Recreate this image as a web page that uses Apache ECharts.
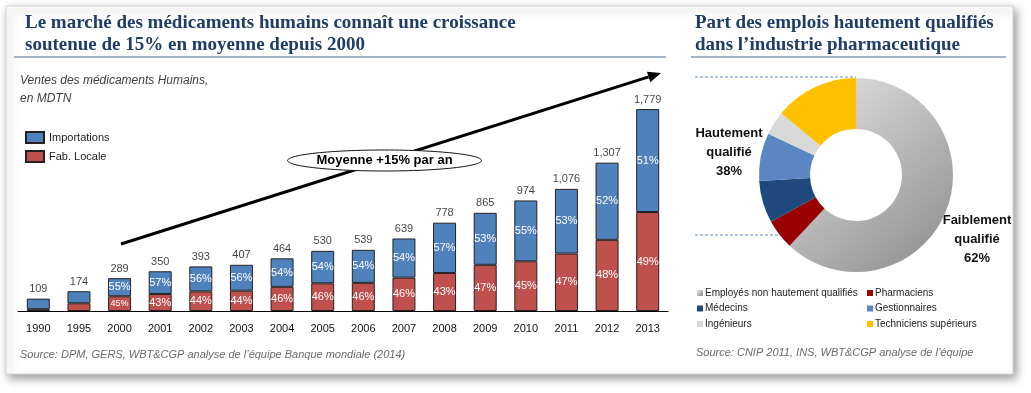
<!DOCTYPE html>
<html>
<head>
<meta charset="utf-8">
<script src="https://cdn.jsdelivr.net/npm/echarts@6/dist/echarts.min.js"></script>
<style>
html,body{margin:0;padding:0;background:#ffffff;}
#chart{width:1031px;height:393px;}
</style>
</head>
<body>
<div id="chart"></div>
<script>
// ---- Data ----
const years = ['1990','1995','2000','2001','2002','2003','2004','2005','2006','2007','2008','2009','2010','2011','2012','2013'];
const totals = [109,174,289,350,393,407,464,530,539,639,778,865,974,1076,1307,1779];
const localValues = [16,68,130,150,173,179,213,244,248,294,335,407,438,506,627,872];
const importValues = [93,106,159,200,220,228,251,286,291,345,443,458,536,570,680,907];
const localPct = [null,null,45,43,44,44,46,46,46,46,43,47,45,47,48,49];
const importPct = [null,null,55,57,56,56,54,54,54,54,57,53,55,53,52,51];

const pieNames = ['Employés non hautement qualifiés','Pharmaciens','Médecins','Gestionnaires','Ingénieurs','Techniciens supérieurs'];
const pieValues = [62,5,7,8,4,14];

// ---- Styles ----
const BLUE = '#4F81BD', RED = '#C0504D';
const TITLE_COLOR = '#1f3d66';
const numFont = '"Liberation Sans", Arial, sans-serif';
const serif = '"Liberation Serif", "DejaVu Serif", serif';

const pieColors = [
  new echarts.graphic.LinearGradient(0,0,1,1,[{offset:0,color:'#e6e6e6'},{offset:1,color:'#8a8a8a'}]),
  '#990000','#1F497D','#5A86C4','#D9D9D9','#FFC000'
];

const chart = echarts.init(document.getElementById('chart'), null, {renderer:'canvas'});

function pctLabel(arr, i, small){
  if (arr[i] == null) return {show:false};
  return {show:true, position:'inside', formatter: arr[i] + '%', color:'#ffffff',
          fontFamily:numFont, fontSize: small ? 9 : 11};
}

const localData = localValues.map((v,i)=>({value:v, label:pctLabel(localPct,i, i===2)}));
const importData = importValues.map((v,i)=>({value:v, label:pctLabel(importPct,i,false)}));
const totalLabels = totals.map(v => v.toLocaleString('en-US'));

// arrow geometry
const ax1 = 121, ay1 = 244, ax2 = 661, ay2 = 73;
const ang = Math.atan2(ay2-ay1, ax2-ax1);
const hl = 13, hw = 5.5;
const bx = ax2 - hl*Math.cos(ang), by = ay2 - hl*Math.sin(ang);
const head = [[ax2,ay2],[bx - hw*Math.sin(ang), by + hw*Math.cos(ang)],[bx + hw*Math.sin(ang), by - hw*Math.cos(ang)]];

const option = {
  backgroundColor:'#ffffff',
  animation:false,
  grid:{left:18, right:363, top:84, bottom:82, containLabel:false},
  xAxis:{type:'category', data:years,
    axisLine:{lineStyle:{color:'#000', width:1}}, axisTick:{show:false},
    axisLabel:{color:'#111', fontFamily:numFont, fontSize:11, margin:12}},
  yAxis:{type:'value', min:0, max:2000, show:false, splitLine:{show:false}},
  legend:[
    {data:['Importations','Fab. Locale'], orient:'vertical', left:20, top:126,
     itemWidth:18, itemHeight:11, itemGap:6, icon:'rect',
     textStyle:{fontFamily:numFont, fontSize:11, color:'#222'}},
    {data:['Employés non hautement qualifiés','Médecins','Ingénieurs'], orient:'vertical', left:692, top:283,
     itemWidth:6, itemHeight:6, itemGap:5.5, icon:'rect',
     textStyle:{fontFamily:numFont, fontSize:10, color:'#222', padding:[0,0,0,-3]}},
    {data:['Pharmaciens','Gestionnaires','Techniciens supérieurs'], orient:'vertical', left:862, top:283,
     itemWidth:6, itemHeight:6, itemGap:5.5, icon:'rect',
     textStyle:{fontFamily:numFont, fontSize:10, color:'#222', padding:[0,0,0,-3]}}
  ],
  series:[
    {name:'Fab. Locale', type:'bar', stack:'t', data:localData, barWidth:23,
     itemStyle:{color:RED, borderColor:'#222', borderWidth:1}, z:3},
    {name:'Importations', type:'bar', stack:'t', data:importData, barWidth:23,
     itemStyle:{color:BLUE, borderColor:'#222', borderWidth:1}, z:3},
    {name:'Total', type:'scatter', data:totals, symbolSize:0, silent:true,
     label:{show:true, position:'top', distance:4, color:'#111', fontFamily:numFont, fontSize:11,
            formatter:p=>totalLabels[p.dataIndex]}, z:4},
    {name:'Emplois', type:'pie', center:[856,175], radius:[46,97], startAngle:90, clockwise:true,
     label:{show:false}, labelLine:{show:false}, silent:true,
     data:pieNames.map((n,i)=>({name:n, value:pieValues[i], itemStyle:{color:pieColors[i]}})),
     itemStyle:{borderWidth:0}}
  ],
  graphic:[
    {type:'rect', z:-10, shape:{x:6,y:6,width:1007,height:368},
     style:{fill:'#fff', stroke:'#d4d4d4', lineWidth:1, shadowBlur:9, shadowOffsetX:3, shadowOffsetY:4, shadowColor:'rgba(0,0,0,0.4)'}},
    {type:'text', left:25, top:12, style:{text:'Le marché des médicaments humains connaît une croissance\nsoutenue de 15% en moyenne depuis 2000',
      font:'bold 19px '+serif, fill:TITLE_COLOR, lineHeight:22}},
    {type:'line', shape:{x1:14,y1:57,x2:666,y2:57}, style:{stroke:'#4a6a8e', lineWidth:1}},
    {type:'text', left:695, top:12, style:{text:'Part des emplois hautement qualifiés\ndans l\u2019industrie pharmaceutique',
      font:'bold 19px '+serif, fill:TITLE_COLOR, lineHeight:22}},
    {type:'line', shape:{x1:691,y1:57,x2:1006,y2:57}, style:{stroke:'#4a6a8e', lineWidth:1}},
    {type:'text', left:20, top:72, style:{text:'Ventes des médicaments Humains,\nen MDTN',
      font:'italic 12px '+numFont, fill:'#404040', lineHeight:18}},
    {type:'line', z:5, shape:{x1:ax1,y1:ay1,x2:bx,y2:by}, style:{stroke:'#000', lineWidth:3}},
    {type:'polygon', z:5, shape:{points:head}, style:{fill:'#000'}},
    {type:'ellipse', z:6, shape:{cx:384.5, cy:160.5, rx:97, ry:10.5}, style:{fill:'#fff', stroke:'#111', lineWidth:1}},
    {type:'text', z:7, x:384.5, y:160.5, style:{text:'Moyenne +15% par an', font:'bold 13px '+numFont, fill:'#000', align:'center', verticalAlign:'middle'}},
    {type:'text', left:20, top:349, style:{text:'Source: DPM, GERS, WBT&CGP analyse de l\u2019équipe Banque mondiale (2014)',
      font:'italic 11px '+numFont, fill:'#6b6b6b'}},
    {type:'text', left:696, top:347, style:{text:'Source: CNIP 2011, INS, WBT&CGP analyse de l\u2019équipe',
      font:'italic 11px '+numFont, fill:'#6b6b6b'}},
    {type:'line', shape:{x1:695,y1:77,x2:856,y2:77}, style:{stroke:'#6b8fbf', lineWidth:1, lineDash:[3,2]}},
    {type:'line', shape:{x1:695,y1:235,x2:785,y2:235}, style:{stroke:'#6b8fbf', lineWidth:1, lineDash:[3,2]}},
    {type:'text', x:729, y:152, style:{text:'Hautement\nqualifié\n38%', font:'bold 13px '+numFont, fill:'#111',
      align:'center', verticalAlign:'middle', lineHeight:19}},
    {type:'text', x:977, y:239, style:{text:'Faiblement\nqualifié\n62%', font:'bold 13px '+numFont, fill:'#111',
      align:'center', verticalAlign:'middle', lineHeight:19}}
  ]
};
chart.setOption(option);
</script>
</body>
</html>
